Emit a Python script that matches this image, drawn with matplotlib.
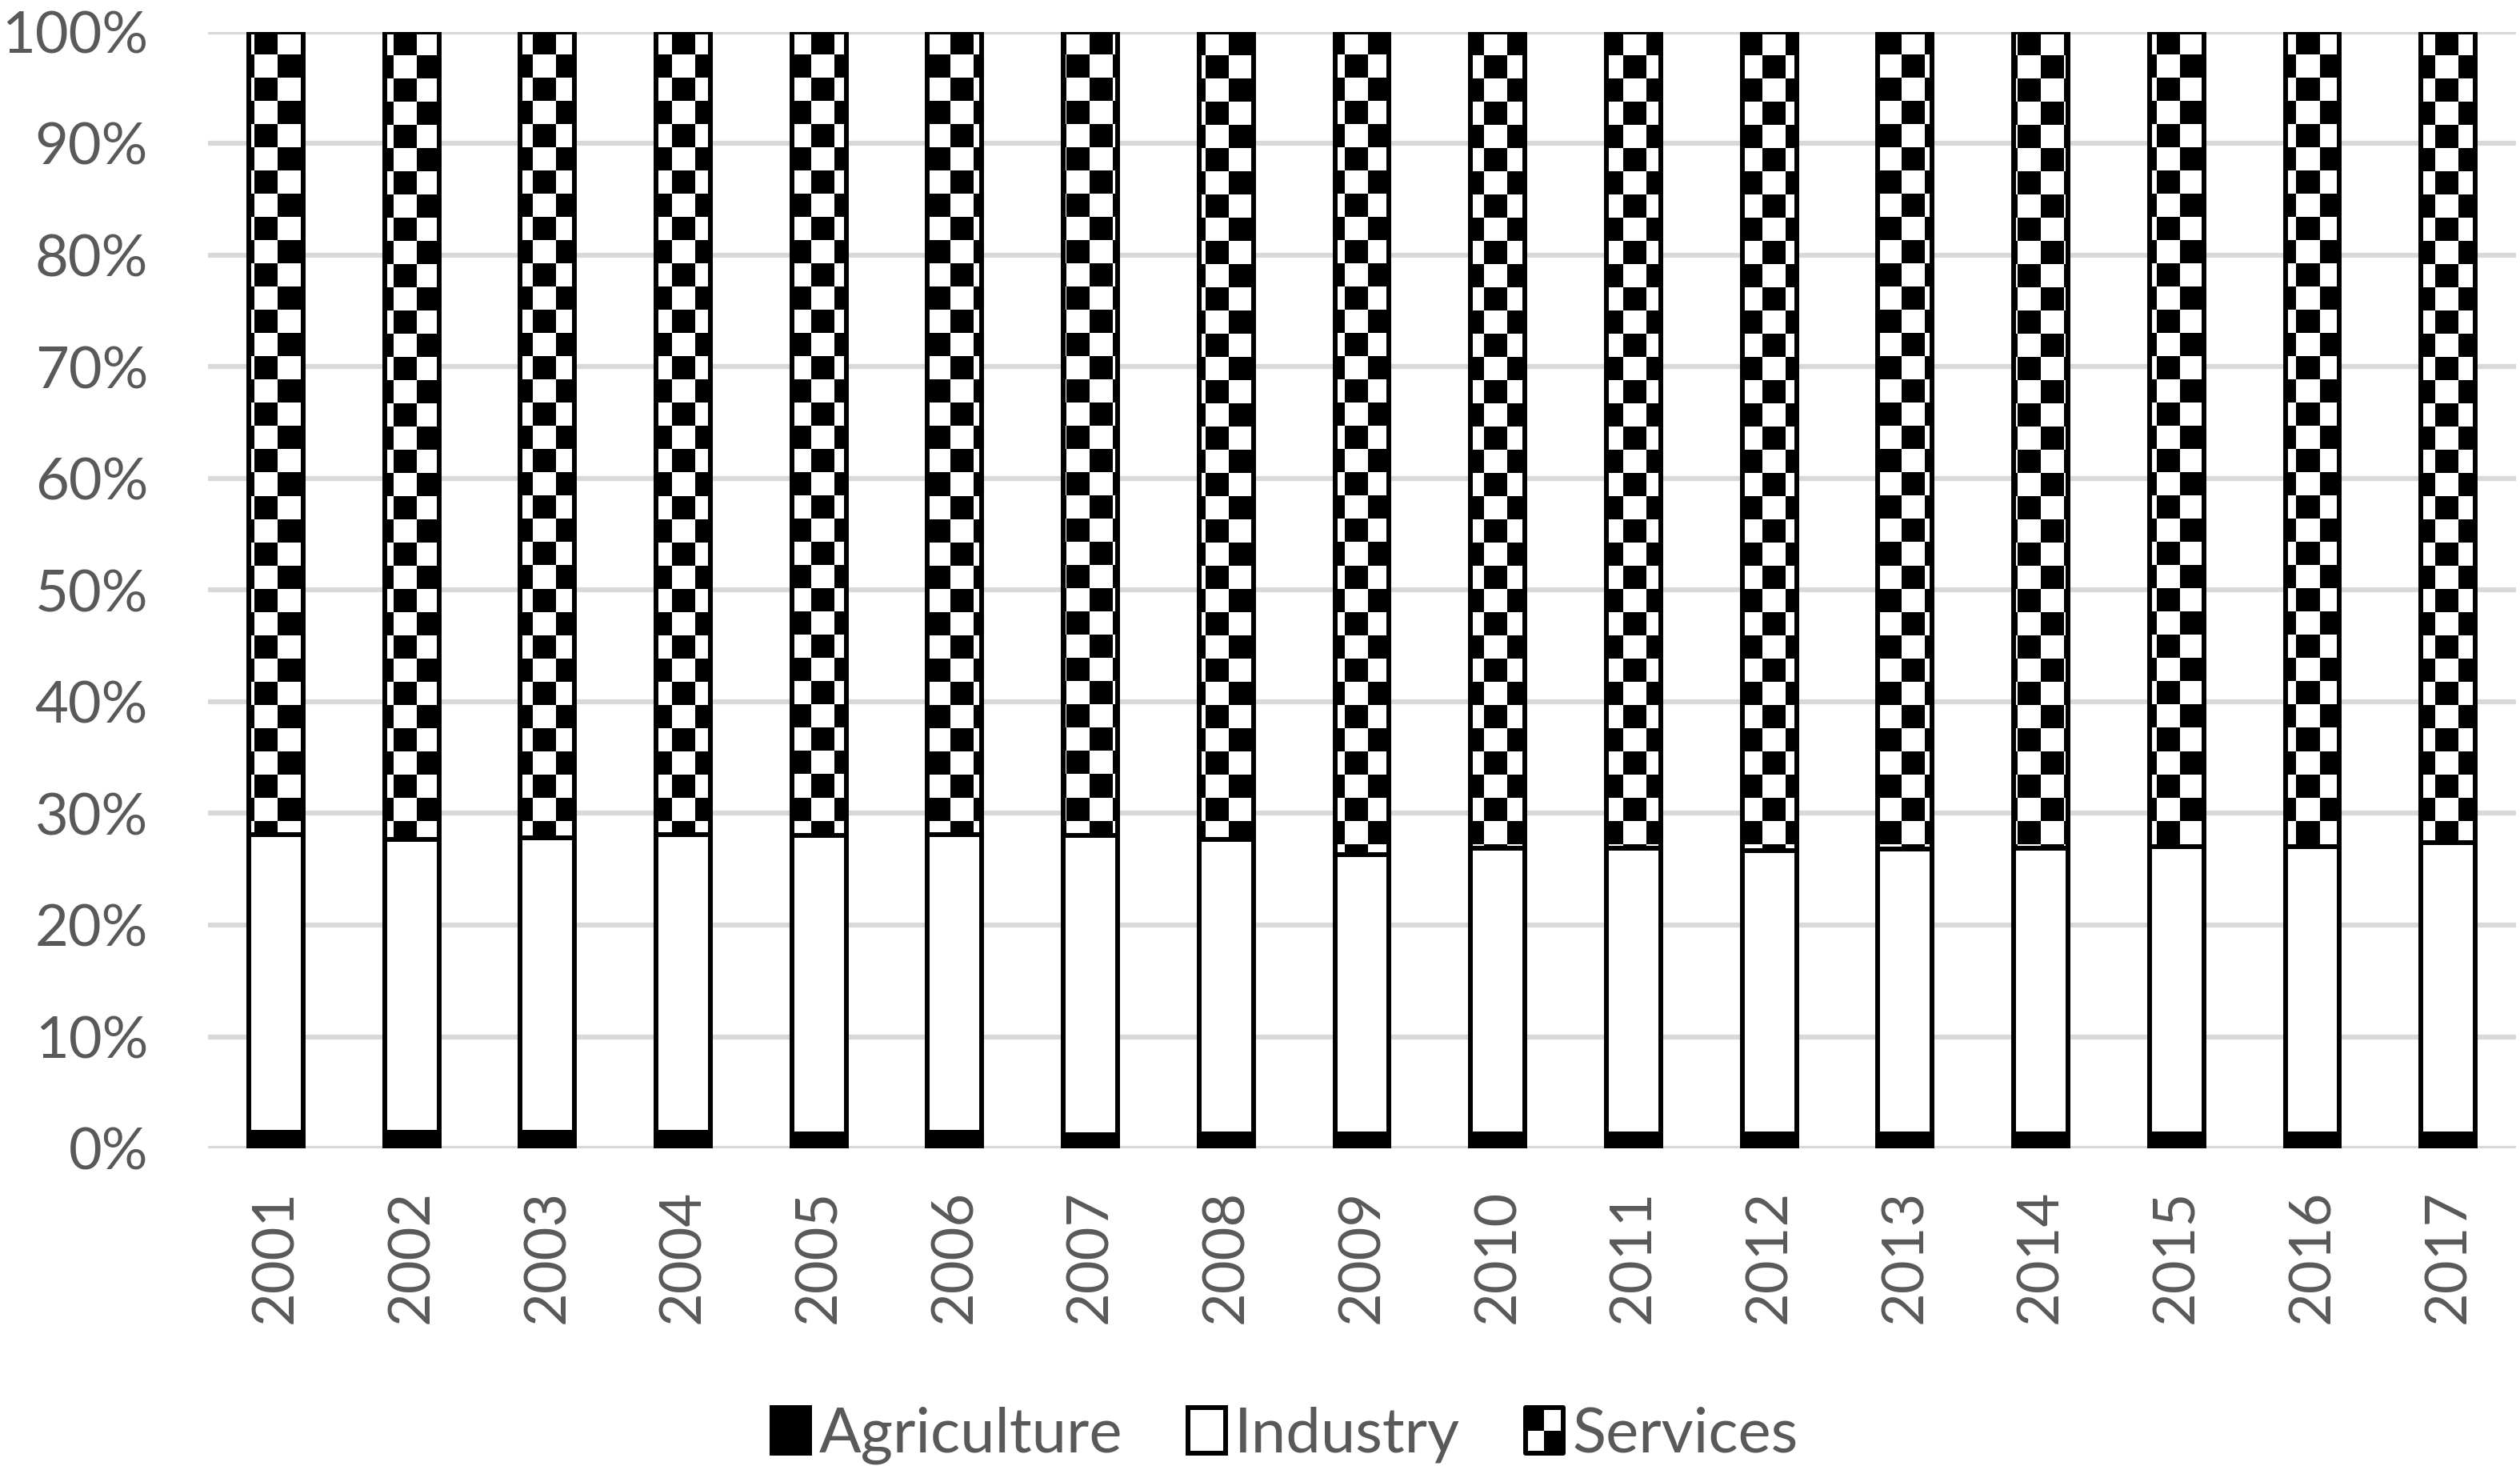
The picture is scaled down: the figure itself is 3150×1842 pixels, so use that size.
import numpy as np
import matplotlib
matplotlib.use("Agg")
import matplotlib.pyplot as plt
from matplotlib.patches import Rectangle
from matplotlib.legend_handler import HandlerBase

years = [str(y) for y in range(2001, 2018)]
agriculture = [1.4, 1.4, 1.4, 1.4, 1.3, 1.4, 1.2, 1.3, 1.3, 1.3, 1.3, 1.3, 1.3, 1.3, 1.3, 1.3, 1.3]
industry = [26.7, 26.3, 26.4, 26.7, 26.7, 26.7, 26.8, 26.4, 25.0, 25.6, 25.6, 25.4, 25.5, 25.6, 25.7, 25.7, 26.1]
services = [71.9, 72.3, 72.2, 71.9, 72.0, 71.9, 72.0, 72.3, 73.7, 73.1, 73.1, 73.3, 73.2, 73.1, 73.0, 73.0, 72.6]
series_names = ["Agriculture", "Industry", "Services"]
yticks = list(range(0, 101, 10))

FONT = ["Lato", "DejaVu Sans"]
GRAY = "#595959"
plt.rcParams["font.family"] = FONT

W, H = 3150, 1842
fig = plt.figure(figsize=(W / 100, H / 100), dpi=100)
ax_l, ax_r, ax_t, ax_b = 260, 3145, 40, 1435
ax = fig.add_axes([ax_l / W, 1 - ax_b / H, (ax_r - ax_l) / W, (ax_b - ax_t) / H])

x = np.arange(len(years))
tot = np.array(agriculture) + np.array(industry) + np.array(services)
agri_p = np.array(agriculture) / tot * 100
ind_p = np.array(industry) / tot * 100
serv_p = np.array(services) / tot * 100

bw = 0.4
lw = 4.3
b1 = ax.bar(x, agri_p, bw, color="black", edgecolor="black", linewidth=lw,
            joinstyle="round", zorder=3, label=series_names[0])
b2 = ax.bar(x, ind_p, bw, bottom=agri_p, color="white", edgecolor="black",
            linewidth=lw, joinstyle="round", zorder=3, label=series_names[1])
b3 = ax.bar(x, serv_p, bw, bottom=agri_p + ind_p, facecolor="none", edgecolor="black",
            linewidth=lw, joinstyle="round", zorder=4, label=series_names[2])

ax.set_xlim(-0.5, len(years) - 0.5)
ax.set_ylim(0, 100)

# checkerboard fill for services
sq = 29.0
axw, axh = ax_r - ax_l, ax_b - ax_t
ncols = int(np.ceil(axw / sq)) + 1
nrows = int(np.ceil(axh / sq)) + 1
ii, jj = np.indices((nrows, ncols))
checker = ((ii + jj) % 2 == 0).astype(float)
x0 = -0.5
x1 = x0 + ncols * sq * len(years) / axw
y1 = 100.0
y0 = y1 - nrows * sq * 100.0 / axh
for p in b3.patches:
    im = ax.imshow(checker, cmap="gray_r", vmin=0, vmax=1, extent=(x0, x1, y0, y1),
                   interpolation="nearest", aspect="auto", origin="upper", zorder=2.5)
    im.set_clip_path(p)
ax.set_xlim(-0.5, len(years) - 0.5)
ax.set_ylim(0, 100)

ax.set_axisbelow(True)
ax.yaxis.grid(True, color="#d9d9d9", linewidth=4.5)
ax.xaxis.grid(False)
for s in ax.spines.values():
    s.set_visible(False)

ax.set_yticks(yticks)
ax.set_yticklabels([f"{v}%" for v in yticks], fontsize=52, color=GRAY)
ax.set_xticks(x)
ax.set_xticklabels(years, rotation=90, fontsize=52, color=GRAY)
ax.tick_params(axis="y", length=0, pad=54)
ax.tick_params(axis="x", length=0, pad=37)


class CheckerHandler(HandlerBase):
    def create_artists(self, legend, orig_handle, xdescent, ydescent, width, height,
                       fontsize, trans):
        x0_, y0_ = -xdescent, -ydescent
        fill = Rectangle((x0_, y0_), width, height, facecolor="white", edgecolor="none",
                         transform=trans)
        tl = Rectangle((x0_, y0_ + height / 2), width / 2, height / 2, facecolor="black",
                       edgecolor="none", transform=trans)
        br = Rectangle((x0_ + width / 2, y0_), width / 2, height / 2, facecolor="black",
                       edgecolor="none", transform=trans)
        edge = Rectangle((x0_, y0_), width, height, facecolor="none", edgecolor="black",
                         linewidth=lw, joinstyle="round", transform=trans)
        return [fill, tl, br, edge]


serv_handle = Rectangle((0, 0), 1, 1)
leg = fig.legend([b1.patches[0], b2.patches[0], serv_handle], series_names,
                 handler_map={serv_handle: CheckerHandler()},
                 loc="center", bbox_to_anchor=(0.51, 1 - 1794 / H), ncol=3,
                 frameon=False, fontsize=56, handlelength=0.6, handleheight=0.75,
                 handletextpad=0.15, columnspacing=1.05)
for t in leg.get_texts():
    t.set_color(GRAY)

fig.savefig("out.png", dpi=100, facecolor="white")
